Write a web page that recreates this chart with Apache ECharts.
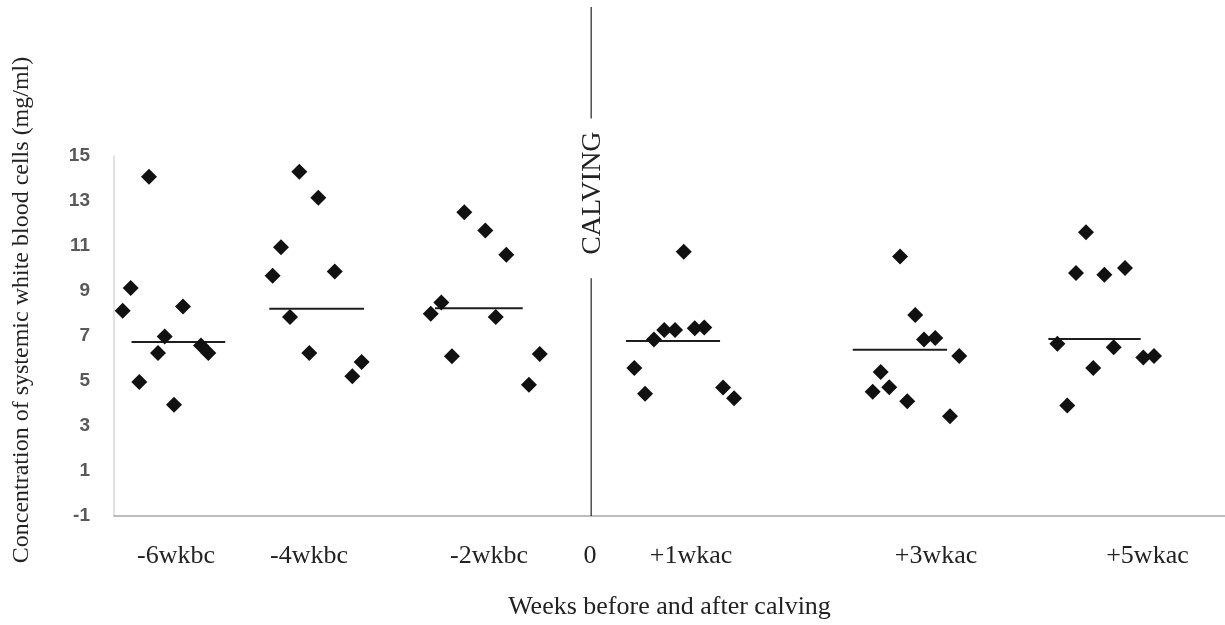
<!DOCTYPE html>
<html>
<head>
<meta charset="utf-8">
<script src="https://cdn.jsdelivr.net/npm/echarts@6/dist/echarts.min.js"></script>
<style>html,body{margin:0;padding:0;background:#fff}#c{width:1225px;height:625px}</style>
</head>
<body>
<div id="c"></div>
<script>
// ---- Data ----
// horizontal position scale 0..100 across the plot; values in mg/ml
const xTickPos    = [5.58, 17.55, 33.75, 42.84, 51.94, 73.99, 93.02];
const xTickLabels = ['-6wkbc', '-4wkbc', '-2wkbc', '0', '+1wkac', '+3wkac', '+5wkac'];
const yTicks = [-1, 1, 3, 5, 7, 9, 11, 13, 15];

const g1x = [0.78, 1.50, 3.15, 2.28, 3.96, 4.56, 6.21, 5.40, 7.83, 8.49];
const g1y = [8.12, 9.13, 14.08, 4.96, 6.25, 6.98, 8.31, 3.94, 6.58, 6.25];
const g2x = [16.68, 18.39, 15.03, 14.28, 19.87, 15.84, 17.58, 21.45, 22.29];
const g2y = [14.30, 13.15, 10.95, 9.68, 9.87, 7.84, 6.25, 5.21, 5.85];
const g3x = [31.53, 33.42, 35.31, 29.46, 28.51, 34.36, 30.42, 38.32, 37.35];
const g3y = [12.50, 11.69, 10.61, 8.49, 7.99, 7.84, 6.10, 6.20, 4.83];
const g4x = [51.28, 48.60, 49.53, 50.50, 52.27, 53.13, 46.83, 47.80, 54.82, 55.81];
const g4y = [10.74, 6.84, 7.27, 7.27, 7.34, 7.38, 5.58, 4.43, 4.71, 4.23];
const g5x = [70.75, 72.12, 72.91, 73.92, 76.08, 69.01, 68.29, 69.78, 71.40, 75.25];
const g5y = [10.53, 7.93, 6.84, 6.91, 6.11, 5.40, 4.52, 4.72, 4.10, 3.43];
const g6x = [87.49, 86.59, 89.14, 91.00, 84.91, 89.98, 88.14, 92.65, 93.61, 85.80];
const g6y = [11.61, 9.80, 9.72, 10.02, 6.66, 6.50, 5.58, 6.05, 6.11, 3.91];

// central line per group: start x, end x, value
const lineStart = [1.58, 13.98, 28.89, 46.08, 66.49, 84.10];
const lineEnd   = [10.01, 22.50, 36.79, 54.55, 74.98, 92.41];
const lineValue = [6.73, 8.21, 8.23, 6.78, 6.39, 6.87];

// calving marker
const calvingX = 42.95;
const calvingLower = [-1, 9.57];
const calvingUpper = [16.67, 21.62];
const calvingTextY = 13.35;

// ---- Build ----
const groupsX = [g1x, g2x, g3x, g4x, g5x, g6x];
const groupsY = [g1y, g2y, g3y, g4y, g5y, g6y];
const points = [];
groupsX.forEach((xs, gi) => xs.forEach((x, i) => points.push([x, groupsY[gi][i]])));

const serif = '"Liberation Serif", "Times New Roman", serif';
const series = [{
  type: 'scatter',
  data: points,
  symbol: 'diamond',
  symbolSize: 16,
  itemStyle: { color: '#111', opacity: 1 },
  z: 3
}];
lineStart.forEach((s, i) => {
  series.push({
    type: 'line',
    data: [[s, lineValue[i]], [lineEnd[i], lineValue[i]]],
    symbol: 'none',
    lineStyle: { color: '#1e1e1e', width: 2 },
    z: 2
  });
});
series.push({
  type: 'line', data: calvingLower.map(v => [calvingX, v]), symbol: 'none',
  lineStyle: { color: '#222', width: 1.2 }, z: 2
});
series.push({
  type: 'line', data: calvingUpper.map(v => [calvingX, v]), symbol: 'none', clip: false,
  lineStyle: { color: '#222', width: 1.2 }, z: 2
});

const chart = echarts.init(document.getElementById('c'), null, { renderer: 'canvas' });
chart.setOption({
  animation: false,
  backgroundColor: '#fff',
  grid: { left: 114, right: 0, top: 156, bottom: 108 },
  xAxis: {
    type: 'value', min: 0, max: 100,
    axisLine: { show: true, onZero: false, lineStyle: { color: '#a8a8a8', width: 1.5 } },
    axisTick: { show: false },
    splitLine: { show: false },
    axisLabel: {
      customValues: xTickPos,
      formatter: v => { const i = xTickPos.findIndex(p => Math.abs(p - v) < 1e-6); return i >= 0 ? xTickLabels[i] : ''; },
      fontFamily: serif, fontSize: 26, color: '#222', margin: 27
    },
    name: 'Weeks before and after calving',
    nameLocation: 'middle', nameGap: 78,
    nameTextStyle: { fontFamily: serif, fontSize: 26, color: '#222' }
  },
  yAxis: {
    type: 'value', min: -1, max: 15,
    axisLine: { show: true, onZero: false, lineStyle: { color: '#d9d9d9', width: 1.5 } },
    axisTick: { show: false },
    splitLine: { show: false },
    axisLabel: {
      customValues: yTicks,
      fontFamily: '"Liberation Sans", Arial, sans-serif', fontWeight: 'bold',
      fontSize: 19, color: '#595959', margin: 24
    }
  },
  series: series
});

const tp = chart.convertToPixel({ gridIndex: 0 }, [calvingX, calvingTextY]);
chart.setOption({
  graphic: [
    {
      type: 'text', x: tp[0] + 1, y: tp[1], rotation: Math.PI / 2,
      style: { text: 'CALVING', font: '28px ' + serif, fill: '#222', textAlign: 'center', textVerticalAlign: 'middle' }
    },
    {
      type: 'text', x: 22, y: 310, rotation: Math.PI / 2,
      style: { text: 'Concentration of systemic white blood cells (mg/ml)', font: '24px ' + serif, fill: '#222', textAlign: 'center', textVerticalAlign: 'middle' }
    }
  ]
});
</script>
</body>
</html>
